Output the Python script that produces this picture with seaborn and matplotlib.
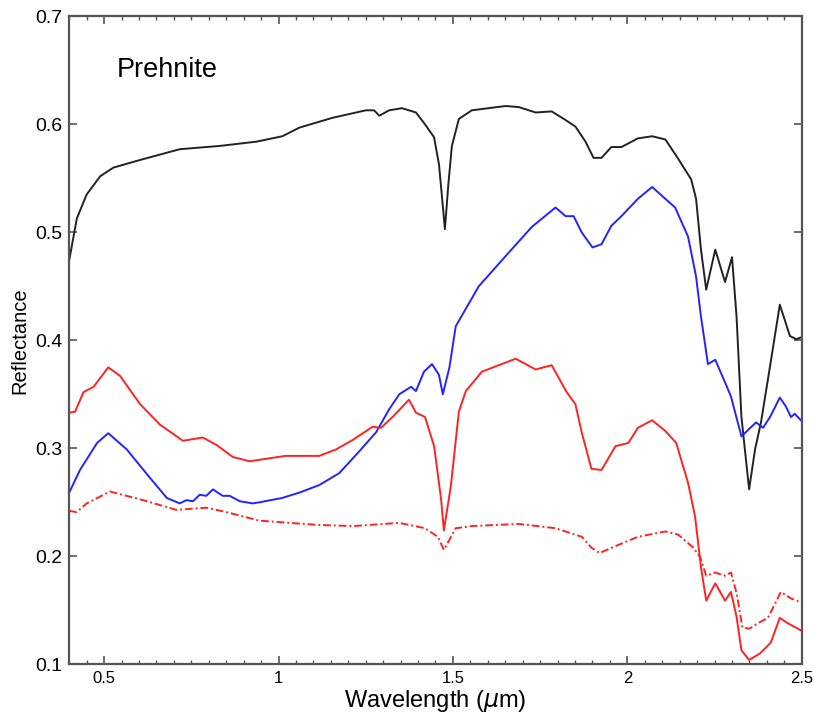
import numpy as np
import pandas as pd
import matplotlib
matplotlib.use('Agg')
import matplotlib.pyplot as plt
import seaborn as sns
from matplotlib.ticker import MultipleLocator, FormatStrFormatter

# Prehnite reflectance spectra
black_x = [0.400, 0.422, 0.450, 0.489, 0.527, 0.603, 0.717, 0.831, 0.937, 1.011, 1.060, 1.154,
           1.250, 1.274, 1.289, 1.317, 1.354, 1.394, 1.420, 1.446, 1.460, 1.468, 1.477, 1.487,
           1.497, 1.517, 1.554, 1.651, 1.689, 1.737, 1.783, 1.823, 1.851, 1.880, 1.903, 1.926,
           1.954, 1.983, 2.030, 2.071, 2.109, 2.146, 2.183, 2.197, 2.211, 2.226, 2.252, 2.280,
           2.300, 2.313, 2.327, 2.349, 2.366, 2.383, 2.409, 2.437, 2.466, 2.484, 2.500]
black_y = [0.474, 0.513, 0.535, 0.552, 0.560, 0.567, 0.577, 0.580, 0.584, 0.589, 0.597, 0.606,
           0.613, 0.613, 0.608, 0.613, 0.615, 0.611, 0.600, 0.588, 0.563, 0.535, 0.503, 0.545,
           0.580, 0.605, 0.613, 0.617, 0.616, 0.611, 0.612, 0.604, 0.598, 0.584, 0.569, 0.569,
           0.579, 0.579, 0.587, 0.589, 0.586, 0.568, 0.549, 0.531, 0.484, 0.447, 0.484, 0.454,
           0.477, 0.422, 0.329, 0.262, 0.299, 0.324, 0.376, 0.433, 0.404, 0.401, 0.403]

blue_x = [0.400, 0.431, 0.480, 0.512, 0.565, 0.623, 0.680, 0.717, 0.736, 0.755, 0.774, 0.793,
          0.812, 0.840, 0.860, 0.889, 0.926, 0.945, 1.010, 1.060, 1.117, 1.174, 1.231, 1.280,
          1.317, 1.346, 1.380, 1.394, 1.417, 1.440, 1.460, 1.471, 1.490, 1.508, 1.574, 1.651,
          1.726, 1.794, 1.823, 1.846, 1.869, 1.900, 1.926, 1.954, 1.983, 2.030, 2.071, 2.109,
          2.137, 2.174, 2.197, 2.211, 2.231, 2.252, 2.280, 2.297, 2.327, 2.346, 2.369, 2.389,
          2.409, 2.437, 2.454, 2.469, 2.480, 2.500]
blue_y = [0.259, 0.280, 0.305, 0.314, 0.299, 0.276, 0.254, 0.249, 0.252, 0.251, 0.257, 0.256,
          0.262, 0.256, 0.256, 0.251, 0.249, 0.250, 0.254, 0.259, 0.266, 0.277, 0.297, 0.315,
          0.336, 0.350, 0.357, 0.353, 0.371, 0.378, 0.368, 0.350, 0.375, 0.413, 0.450, 0.478,
          0.505, 0.523, 0.515, 0.515, 0.500, 0.486, 0.489, 0.506, 0.515, 0.531, 0.542, 0.531,
          0.523, 0.496, 0.459, 0.422, 0.378, 0.382, 0.361, 0.348, 0.311, 0.317, 0.324, 0.319,
          0.329, 0.347, 0.339, 0.329, 0.332, 0.325]

red_x = [0.400, 0.417, 0.441, 0.470, 0.512, 0.546, 0.603, 0.660, 0.726, 0.783, 0.823, 0.869,
         0.917, 1.020, 1.117, 1.165, 1.214, 1.270, 1.294, 1.327, 1.374, 1.394, 1.420, 1.446,
         1.466, 1.474, 1.494, 1.517, 1.537, 1.583, 1.680, 1.737, 1.783, 1.826, 1.851, 1.869,
         1.897, 1.926, 1.966, 2.003, 2.030, 2.071, 2.109, 2.140, 2.174, 2.194, 2.211, 2.226,
         2.252, 2.280, 2.297, 2.313, 2.327, 2.349, 2.380, 2.411, 2.437, 2.460, 2.500]
red_y = [0.333, 0.334, 0.352, 0.357, 0.375, 0.367, 0.341, 0.322, 0.307, 0.310, 0.303, 0.292,
         0.288, 0.293, 0.293, 0.299, 0.308, 0.320, 0.319, 0.329, 0.345, 0.333, 0.329, 0.302,
         0.253, 0.224, 0.265, 0.334, 0.353, 0.371, 0.383, 0.373, 0.377, 0.352, 0.341, 0.315,
         0.281, 0.280, 0.302, 0.305, 0.319, 0.326, 0.316, 0.305, 0.268, 0.237, 0.190, 0.159,
         0.175, 0.159, 0.167, 0.144, 0.113, 0.104, 0.110, 0.120, 0.143, 0.138, 0.131]

reddash_x = [0.400, 0.422, 0.450, 0.517, 0.612, 0.707, 0.793, 0.850, 0.945, 1.117, 1.214, 1.346,
             1.420, 1.457, 1.474, 1.508, 1.554, 1.689, 1.794, 1.870, 1.897, 1.920, 1.970, 2.030,
             2.109, 2.146, 2.189, 2.209, 2.226, 2.252, 2.280, 2.297, 2.313, 2.330, 2.350, 2.374,
             2.403, 2.440, 2.469, 2.500]
reddash_y = [0.242, 0.241, 0.249, 0.260, 0.252, 0.243, 0.245, 0.241, 0.233, 0.229, 0.228, 0.231,
             0.226, 0.218, 0.206, 0.226, 0.228, 0.230, 0.226, 0.218, 0.208, 0.203, 0.210, 0.218,
             0.223, 0.220, 0.208, 0.199, 0.182, 0.185, 0.182, 0.185, 0.166, 0.134, 0.133, 0.138,
             0.143, 0.167, 0.161, 0.157]

sns.set_style('ticks')
plt.rcParams['font.family'] = ['Liberation Sans', 'DejaVu Sans']
plt.rcParams['text.color'] = 'black'
plt.rcParams['axes.labelcolor'] = 'black'
plt.rcParams['xtick.labelcolor'] = 'black'
plt.rcParams['ytick.labelcolor'] = 'black'

fig = plt.figure(figsize=(8.14, 7.12), dpi=100)
ax = fig.add_axes([0.085, 0.067, 0.900, 0.910])

lw = 1.4
sns.lineplot(x=black_x, y=black_y, ax=ax, color='#222222', lw=lw, estimator=None)
sns.lineplot(x=blue_x, y=blue_y, ax=ax, color='#2323ff', lw=lw, estimator=None)
sns.lineplot(x=red_x, y=red_y, ax=ax, color='#ff2222', lw=lw, estimator=None)
sns.lineplot(x=reddash_x, y=reddash_y, ax=ax, color='#ff2222', lw=lw, estimator=None,
             linestyle=(0, (4, 1.5, 1, 1.5)))

ax.set_xlim(0.4, 2.5)
ax.set_ylim(0.1, 0.7)
ax.xaxis.set_major_locator(MultipleLocator(0.5))
ax.xaxis.set_minor_locator(MultipleLocator(0.05))
ax.yaxis.set_major_locator(MultipleLocator(0.1))
ax.xaxis.set_major_formatter(FormatStrFormatter('%g'))
ax.yaxis.set_major_formatter(FormatStrFormatter('%.1f'))

ax.tick_params(which='both', direction='in', top=True, right=True, color='#555555')
ax.tick_params(which='major', length=6, width=1.2, pad=5)
ax.tick_params(which='minor', length=3, width=1.0)
ax.tick_params(axis='x', labelsize=12)
ax.tick_params(axis='y', labelsize=14)
for sp in ax.spines.values():
    sp.set_color('#555555')
    sp.set_linewidth(1.6)

ax.set_xlabel(r'Wavelength ($\mu$m)', fontsize=17, labelpad=1)
ax.set_ylabel('Reflectance', fontsize=14.5, labelpad=4)
ax.text(0.535, 0.65, 'Prehnite', fontsize=19.5, ha='left', va='center')

fig.savefig('out.png', dpi=100)
